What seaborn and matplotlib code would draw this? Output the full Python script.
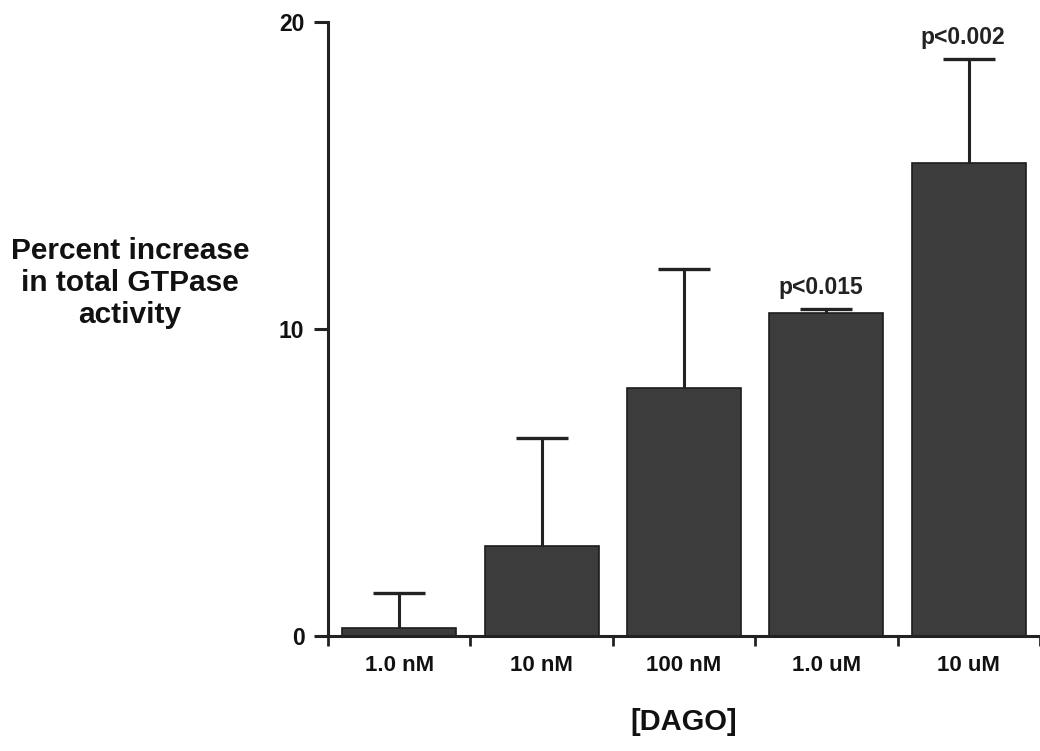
import matplotlib
matplotlib.use("Agg")
import matplotlib.pyplot as plt
import numpy as np
import pandas as pd
import seaborn as sns

# values
doses = ["1.0 nM", "10 nM", "100 nM", "1.0 uM", "10 uM"]
pct_increase = [0.26, 2.93, 8.08, 10.52, 15.41]
sem_upper = [1.14, 3.52, 3.87, 0.13, 3.38]
p_labels = ["", "", "", "p<0.015", "p<0.002"]

df = pd.DataFrame({"dose": doses, "pct": pct_increase})

sns.set_theme(style="white")
plt.rcParams["font.family"] = ["Liberation Sans", "DejaVu Sans"]
plt.rcParams["font.weight"] = "bold"

fig = plt.figure(figsize=(10.4, 7.51), dpi=100)
ax = fig.add_axes([328 / 1040, 115 / 751, 712 / 1040, 614 / 751])

sns.barplot(
    data=df,
    x="dose",
    y="pct",
    order=doses,
    color="#3c3c3c",
    saturation=1,
    width=0.8,
    edgecolor="#1c1c1c",
    linewidth=1.2,
    errorbar=None,
    ax=ax,
)
# one-sided (upper) error bars, as in the original figure
_, caps, _ = ax.errorbar(
    np.arange(len(doses)),
    pct_increase,
    yerr=[np.zeros(len(doses)), sem_upper],
    fmt="none",
    ecolor="#222222",
    elinewidth=2.2,
    capsize=19,
    capthick=2.4,
    zorder=3,
)
caps[0].set_visible(False)

for i, lab in enumerate(p_labels):
    if lab:
        ax.annotate(
            lab,
            (i, pct_increase[i] + sem_upper[i]),
            xytext=(-4, 7),
            textcoords="offset points",
            ha="center",
            va="bottom",
            fontsize=16.5,
            fontweight="bold",
            color="#222222",
        )

ax.set_xlim(-0.5, 4.5)
ax.set_ylim(0, 20)
ax.set_yticks([0, 10, 20])
ax.set_xticks(np.arange(len(doses)))
ax.set_xticklabels(doses, fontsize=16, fontweight="bold")
ax.set_xticks(np.arange(-0.5, len(doses)), minor=True)
ax.tick_params(axis="x", which="major", length=0, pad=14, colors="#111111")
ax.tick_params(axis="x", which="minor", bottom=True, length=7, width=2, color="#222222")
ax.tick_params(axis="y", left=True, length=10, width=2.2, pad=7, labelsize=16.5, color="#222222",
               labelcolor="#111111")
for t in ax.get_yticklabels():
    t.set_fontweight("bold")

for side in ["top", "right"]:
    ax.spines[side].set_visible(False)
for side in ["left", "bottom"]:
    ax.spines[side].set_linewidth(2.2)
    ax.spines[side].set_color("#222222")

ax.set_xlabel("[DAGO]", fontsize=21, fontweight="bold", color="#111111")
ax.xaxis.set_label_coords(0.5, -0.14)
ax.xaxis.label.set_va("center")
ax.set_ylabel("Percent increase\nin total GTPase\nactivity", fontsize=21.5, fontweight="bold",
              rotation=0, ha="center", va="center", multialignment="center",
              linespacing=1.2, color="#111111")
ax.yaxis.set_label_coords(-0.278, 0.575)

fig.savefig("out.png", dpi=100)
plt.close(fig)
